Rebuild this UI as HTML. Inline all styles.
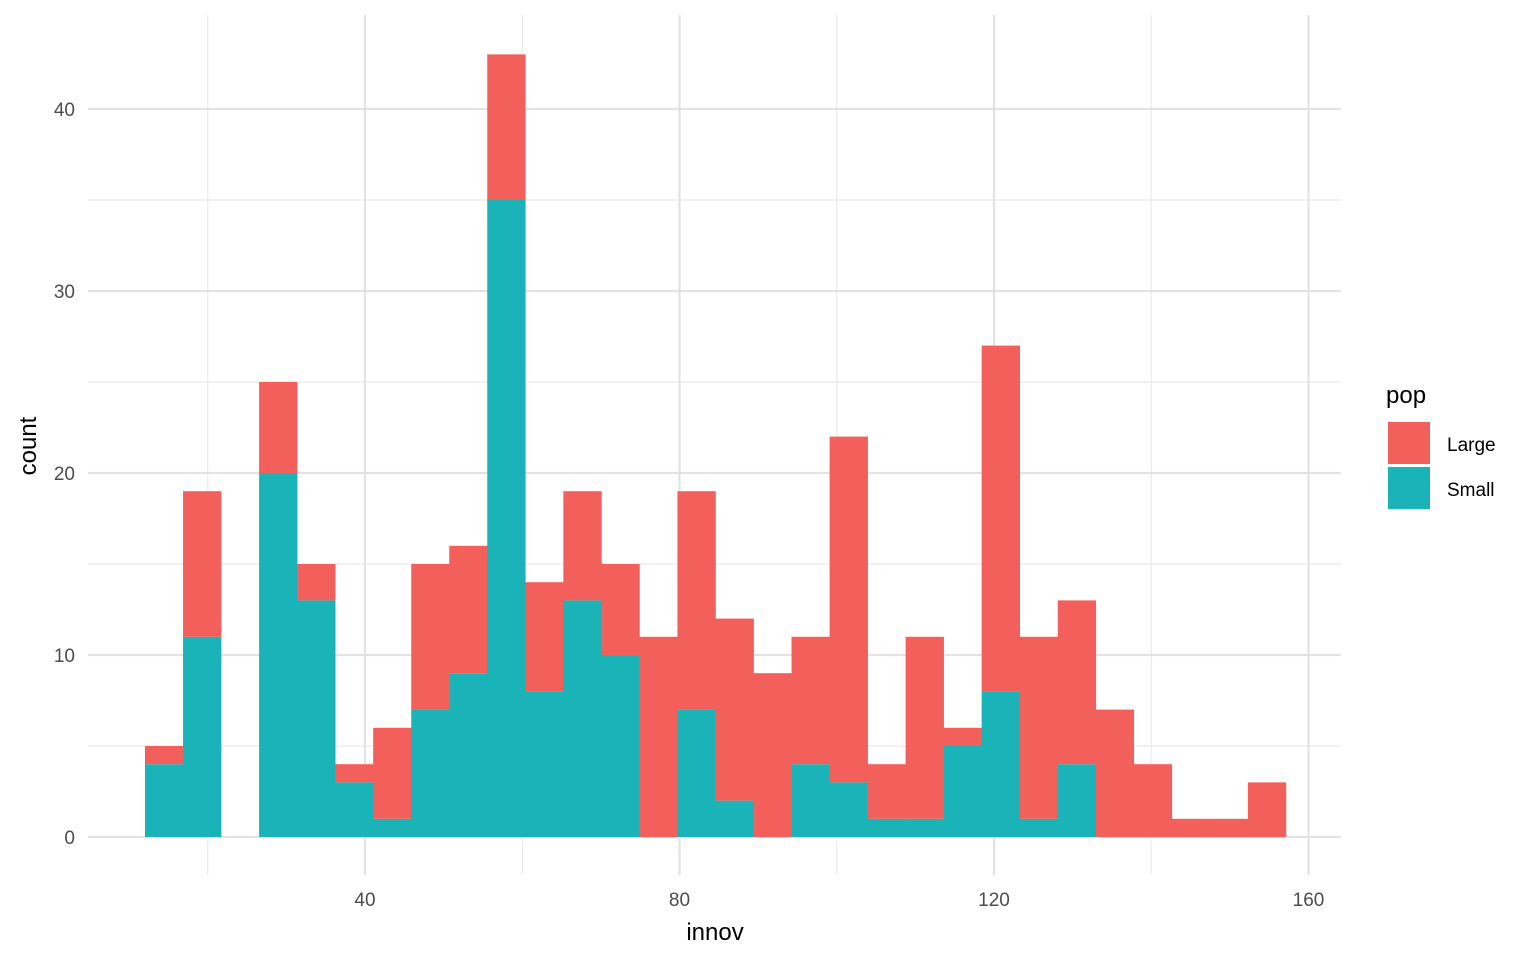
<!DOCTYPE html>
<html><head><meta charset="utf-8"><style>
html,body{margin:0;padding:0;background:#fff;}
svg{display:block;font-family:"Liberation Sans",Arial,sans-serif;}
</style></head><body>
<svg id="chart" width="1536" height="960"></svg>
<script>
const binStarts=[12.02,16.86,21.70,26.53,31.37,36.21,41.04,45.88,50.72,55.55,60.39,65.23,70.07,74.90,79.74,84.58,89.41,94.25,99.09,103.92,108.76,113.60,118.43,123.27,128.11,132.94,137.78,142.62,147.45,152.29];
const binWidth=4.837;
const largeCounts=[1,8,0,5,2,1,5,8,7,8,6,6,5,11,12,10,9,7,19,3,10,1,19,10,9,7,4,1,1,3];
const smallCounts=[4,11,0,20,13,3,1,7,9,35,8,13,10,0,7,2,0,4,3,1,1,5,8,1,4,0,0,0,0,0];
const xTicks=[40,80,120,160];
const xMinor=[20,60,100,140];
const yTicks=[0,10,20,30,40];
const yMinor=[5,15,25,35];
const seriesNames=["Large","Small"];
const colors={Large:"#F35F5A",Small:"#19B3B8"};

const svg=document.getElementById('chart');
const NS="http://www.w3.org/2000/svg";
const L=88,R=1341,T=15,B=875;
function xs(v){return 365+(v-40)*7.8625;}
function ys(v){return 837-v*18.2;}
function mk(tag,attrs,parent){const e=document.createElementNS(NS,tag);for(const k in attrs)e.setAttribute(k,attrs[k]);(parent||svg).appendChild(e);return e;}

const grid=mk('g',{});


yMinor.forEach(v=>{const l=mk('line',{x1:L,x2:R,y1:ys(v),y2:ys(v),stroke:'#ebebeb','stroke-width':1.2},grid);

});
xMinor.forEach(v=>{const l=mk('line',{x1:xs(v),x2:xs(v),y1:T,y2:B,stroke:'#ebebeb','stroke-width':1.2},grid);

});
yTicks.forEach(v=>{const l=mk('line',{x1:L,x2:R,y1:ys(v),y2:ys(v),stroke:'#e3e3e3','stroke-width':2.2},grid);

});
xTicks.forEach(v=>{const l=mk('line',{x1:xs(v),x2:xs(v),y1:T,y2:B,stroke:'#e3e3e3','stroke-width':2.2},grid);

});

const bars=mk('g',{});


binStarts.forEach((s,i)=>{
  const x0=xs(s),w=xs(s+binWidth)-x0;
  const sm=smallCounts[i],lg=largeCounts[i];
  if(sm>0){const r=mk('rect',{x:x0,y:ys(sm),width:w+0.3,height:ys(0)-ys(sm),fill:colors.Small},bars);
    
    }
  if(lg>0){const r=mk('rect',{x:x0,y:ys(sm+lg),width:w+0.3,height:ys(sm)-ys(sm+lg),fill:colors.Large},bars);
    
    }
});

xTicks.forEach(v=>{const t=mk('text',{x:xs(v),y:906,'text-anchor':'middle','font-size':19,fill:'#4d4d4d'});t.textContent=v;

});
yTicks.forEach(v=>{const t=mk('text',{x:75,y:ys(v)+7,'text-anchor':'end','font-size':19,fill:'#4d4d4d'});t.textContent=v;

});

const xt=mk('text',{x:715,y:940,'text-anchor':'middle','font-size':24,fill:'#000'});xt.textContent='innov';


const yt=mk('text',{x:0,y:0,transform:'translate(36,446) rotate(-90)','text-anchor':'middle','font-size':24,fill:'#000'});yt.textContent='count';



const lg=mk('g',{});


const lt=mk('text',{x:1386,y:403,'font-size':24,fill:'#000'},lg);lt.textContent='pop';


seriesNames.forEach((n,i)=>{
  const y=422+i*45;
  const r=mk('rect',{x:1388,y:y,width:42,height:42,fill:colors[n]},lg);
  
  
  const t=mk('text',{x:1447,y:y+29,'font-size':19,fill:'#000'},lg);t.textContent=n;
  
  
});
</script>
</body></html>
